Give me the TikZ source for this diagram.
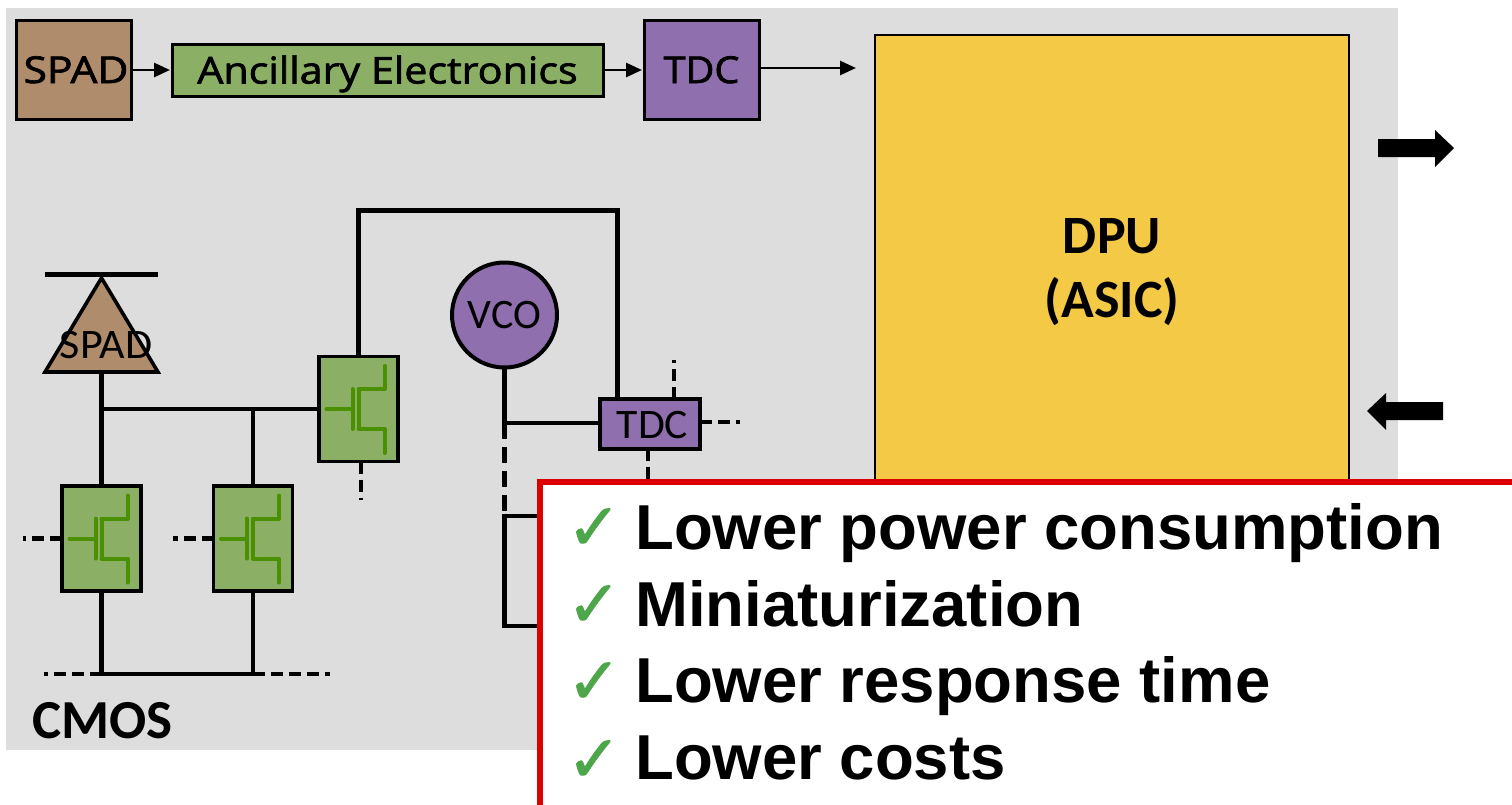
\documentclass[tikz,border=0pt]{standalone}
\usepackage{fontspec}
\usepackage{graphicx}
\setmainfont{Liberation Sans}
\newfontfamily\carl{Carlito}
\newfontfamily\opens[FakeBold=1.8]{Open Sans}
\newfontfamily\dejav[FakeBold=1.2]{DejaVu Sans}
\usetikzlibrary{arrows.meta,calc}
\definecolor{bggray}{HTML}{DDDDDD}
\definecolor{spadbrown}{HTML}{AF8C6B}
\definecolor{ancgreen}{HTML}{8CAF66}
\definecolor{tdcpurple}{HTML}{8F6FAE}
\definecolor{dpuyellow}{HTML}{F4C945}
\definecolor{fetgreen}{HTML}{4A9000}
\definecolor{boxred}{HTML}{DD0000}
\definecolor{chkgreen}{HTML}{4EA64A}
\newcommand{\topfont}{\opens\fontsize{37}{37}\selectfont}
\newcommand{\lowfont}{\carl\fontsize{42}{42}\selectfont}
\tikzset{
  x=1pt,y=-1pt,
  blockbox/.style={draw=black,line width=3pt,inner sep=0pt,outer sep=0pt,text=black},
  toplabel/.style={font=\topfont,text height=27pt,text depth=0pt},
  spadbox/.style={blockbox,toplabel,fill=spadbrown},
  ancbox/.style={blockbox,toplabel,fill=ancgreen},
  tdcbox/.style={blockbox,toplabel,fill=tdcpurple},
  fetbox/.style={blockbox,line width=3.6pt,fill=ancgreen,minimum width=79pt,minimum height=105pt},
  wire/.style={draw=black,line width=4.2pt},
  dashwire/.style={draw=black,line width=4.2pt,dash pattern=on 12pt off 6pt},
  longdash/.style={draw=black,line width=4.2pt,dash pattern=on 16pt off 8pt},
  flow/.style={draw=black,line width=2.8pt,shorten >=2pt,-{Triangle[length=16pt,width=14pt]}},
  fetline/.style={draw=fetgreen,line width=4pt,line cap=round},
  bigtext/.style={anchor=base west,font=\bfseries\fontsize{63.5}{63.5}\selectfont,inner sep=0pt},
  chk/.style={anchor=center,font=\dejav\fontsize{65}{65}\selectfont,text=chkgreen,inner sep=0pt},
  bigarrow/.style={fill=black,draw=none},
}
\begin{document}
\begin{tikzpicture}
\useasboundingbox (0,0) rectangle (1512,804);
\clip (0,0) rectangle (1512,804);
\fill[bggray] (6,8) rectangle (1398,750);

% top row
\node[spadbox,minimum width=115pt,minimum height=99pt] (spadtop) at (73.5,69.5) {\hspace{5pt}\scalebox{1.15}[1]{SPAD}};
\node[ancbox,minimum width=431pt,minimum height=52pt] (anc) at (387.5,70) {\scalebox{1.115}[1]{Ancillary Electronics}};
\node[tdcbox,minimum width=115pt,minimum height=99pt] (tdctop) at (701.5,69.5) {\scalebox{1.07}[1]{TDC}};
\coordinate (dpuin) at (858,68);
\draw[flow] (spadtop.east |- 0,70) -- (anc.west |- 0,70);
\draw[flow] (anc.east) -- (tdctop.west |- anc.east);
\draw[flow] (tdctop.east |- dpuin) -- (dpuin);

% DPU
\node[draw=black,line width=2.6pt,fill=dpuyellow,inner sep=0pt,minimum width=474pt,minimum height=470pt] (dpu) at (1112,270) {};
\node[inner sep=0pt,align=center,font=\carl\bfseries\fontsize{54}{64}\selectfont] (dpulabel) at (1112,272) {DPU\\(ASIC)};

% big arrows
\fill[bigarrow] (1378,139) -- (1435,139) -- (1435,130) -- (1454,148) -- (1435,167) -- (1435,157) -- (1378,157) -- cycle;
\fill[bigarrow] (1443,402) -- (1386,402) -- (1386,393) -- (1367,411) -- (1386,430) -- (1386,420) -- (1443,420) -- cycle;

% transistors
\node[fetbox] (fa) at (101.5,538.5) {};
\node[fetbox] (fb) at (253,538.5) {};
\node[fetbox] (fc) at (358.5,409) {};
\foreach \f in {fa,fb,fc}{
  \draw[fetline] ($(\f.center)+(-32,0)$) -- ($(\f.center)+(-6,0)$);
  \draw[fetline] ($(\f.center)+(-6,-20)$) -- ($(\f.center)+(-6,20)$);
  \draw[fetline,line cap=butt] ($(\f.center)+(0,-20)$) -- ($(\f.center)+(0,20)$);
  \draw[fetline,line join=round] ($(\f.center)+(0,-20)$) -- ($(\f.center)+(26,-20)$) -- ($(\f.center)+(26,-43)$);
  \draw[fetline,line join=round] ($(\f.center)+(0,20)$) -- ($(\f.center)+(26,20)$) -- ($(\f.center)+(26,44)$);
}

% SPAD diode
\coordinate (diodetop) at (101.5,278);
\coordinate (diodel) at (45,372);
\coordinate (dioder) at (158,372);
\coordinate (diodebase) at (101.5,372);
\coordinate (barl) at (45,274.5);
\coordinate (barr) at (158,274.5);
\draw[line width=3.6pt,black,fill=spadbrown,line join=miter] (diodetop) -- (dioder) -- (diodel) -- cycle;
\draw[wire] (barl) -- (barr);
\node[anchor=base,inner sep=0pt,font=\lowfont] (spadlow) at (106,358) {\scalebox{1.05}[1]{SPAD}};

% VCO, TDC
\node[draw=black,line width=4pt,fill=tdcpurple,circle,inner sep=0pt,outer sep=0pt,minimum size=105pt,font=\lowfont,text height=26pt,text depth=0pt] (vco) at (504.5,315) {VCO};
\node[draw=black,line width=3.8pt,fill=tdcpurple,inner sep=0pt,outer sep=0pt,minimum width=100pt,minimum height=50pt,font=\lowfont,text height=28pt,text depth=0pt] (tdclow) at (650,424) {\hspace{5pt}\scalebox{1.04}[1]{TDC}};

% wiring
\coordinate (gatejoin) at (101.5,409);
\coordinate (gatetap) at (253,409);
\coordinate (upl) at (358.5,210.5);
\coordinate (upr) at (617.5,210.5);
\coordinate (vcojoin) at (504.5,423);
\coordinate (busl) at (44,674);
\coordinate (busa) at (101.5,674);
\coordinate (busb) at (253,674);
\coordinate (busr) at (330,674);
\draw[wire] (diodebase) -- (gatejoin) -- (fa.north);
\draw[wire] (gatejoin) -- (fc.west);
\draw[wire] (gatetap) -- (fb.north);
\draw[wire] (fa.south) -- (busa);
\draw[wire] (fb.south) -- (busb);
\draw[wire] (busa) -- (busb);
\draw[dashwire] (busa) -- (busl);
\draw[dashwire] (busb) -- (busr);
\draw[wire,line join=miter] (fc.north) -- (upl) -- (upr) -- (upr |- tdclow.north);
\draw[wire] (vco.south) -- (vcojoin) -- (tdclow.west |- vcojoin);

\coordinate (dashaw) at (23,538.5);
\coordinate (dashbw) at (173,538.5);
\coordinate (dashcs) at (361,500);
\coordinate (dasht) at (674,360);
\coordinate (dashr) at (740,422);
\coordinate (dashb) at (648,490);
\coordinate (bend) at (504.5,516);
\coordinate (bendlow) at (504.5,626);
\coordinate (stubup) at (560,516);
\coordinate (stublow) at (560,626);
\draw[dashwire] (fa.west) -- (dashaw);
\draw[dashwire] (fb.west) -- (dashbw);
\draw[dashwire] (dashcs |- fc.south) -- (dashcs);
\draw[dashwire] (dasht |- tdclow.north) -- (dasht);
\draw[dashwire] (tdclow.east |- dashr) -- (dashr);
\draw[dashwire] (dashb |- tdclow.south) -- (dashb);
\draw[longdash] (vcojoin) -- (bend);
\draw[wire,line join=miter] (stubup) -- (bend) -- (bendlow) -- (stublow);

\node[anchor=base west,inner sep=0pt,font=\carl\bfseries\fontsize{55}{55}\selectfont] (cmos) at (32,738) {CMOS};

% callout
\node[draw=boxred,fill=white,line width=6pt,inner sep=0pt,outer sep=0pt,minimum width=1000pt,minimum height=360pt,anchor=north west] (callout) at (540,482) {};
\node[bigtext] (t1) at (635,549) {Lower power consumption};
\node[bigtext] (t2) at (635,626) {Miniaturization};
\node[bigtext] (t3) at (635,702) {Lower response time};
\node[bigtext] (t4) at (635,779) {Lower costs};
\node[chk] (c1) at (594,529) {✓};
\node[chk] (c2) at (594,606) {✓};
\node[chk] (c3) at (594,683) {✓};
\node[chk] (c4) at (594,761) {✓};
\end{tikzpicture}
\end{document}
